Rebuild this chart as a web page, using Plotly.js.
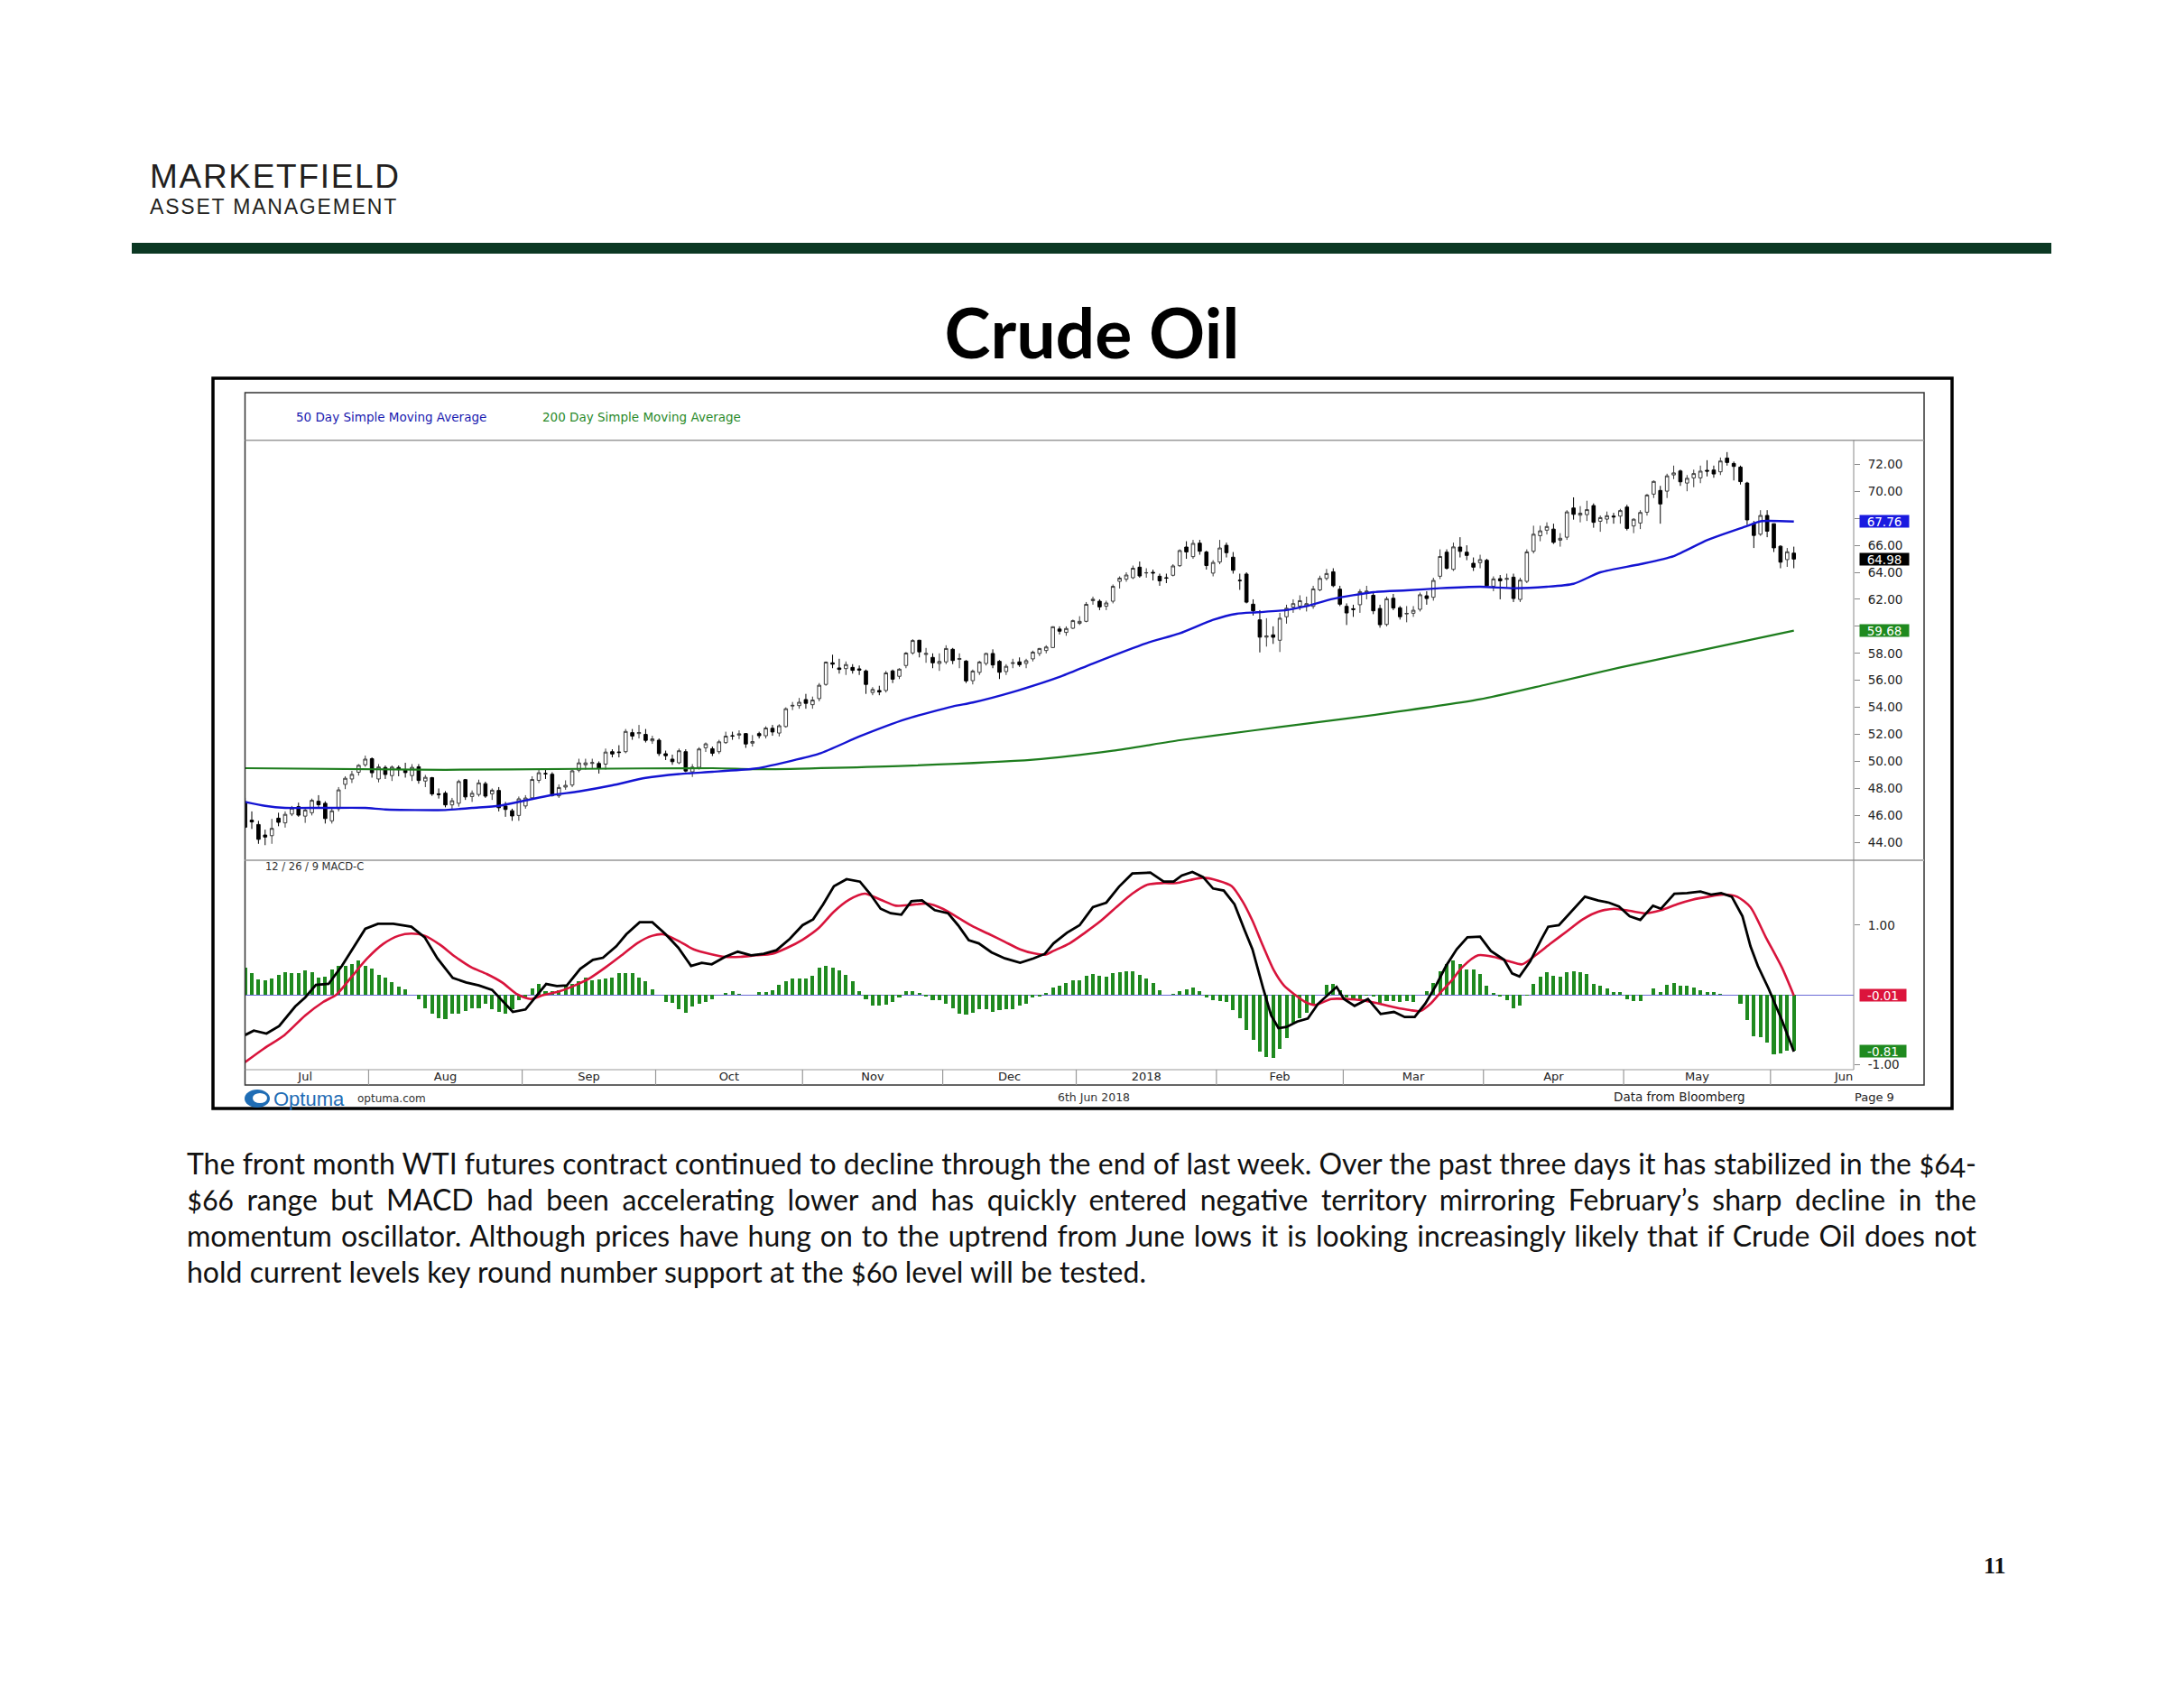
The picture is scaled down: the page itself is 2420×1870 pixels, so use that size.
<!DOCTYPE html>
<html><head><meta charset="utf-8">
<script src="https://cdn.plot.ly/plotly-3.0.1.min.js"></script>
<style>
body{margin:0;background:#fff;width:2420px;height:1870px;overflow:hidden;position:relative;}
#chart{position:absolute;left:0;top:0;width:2420px;height:1870px;}
.ov{position:absolute;white-space:nowrap;color:#231f20;z-index:5;}
.pl{position:absolute;left:207px;width:1983px;height:40px;line-height:40px;white-space:nowrap;
  font-family:Lato,"Open Sans",sans-serif;font-size:32px;color:#111;z-index:5;font-variant-numeric:oldstyle-nums;}
</style></head><body>
<div id="chart"></div>
<div class="ov" style="left:166px;top:177px;font-family:'Liberation Sans',Arial,sans-serif;font-size:37px;line-height:37px;letter-spacing:1.7px;color:#231f20;">MARKETFIELD</div>
<div class="ov" style="left:166px;top:218px;font-family:'Liberation Sans',Arial,sans-serif;font-size:23px;line-height:23px;letter-spacing:1.8px;color:#231f20;">ASSET MANAGEMENT</div>
<div class="ov" style="left:146px;top:269px;width:2127px;height:12px;background:#0b3823;"></div>
<div class="pl" data-j="1" style="top:1269px;"><span>The front month WTI futures contract continued to decline through the end of last week. Over the past three days it has stabilized in the $64-</span></div>
<div class="pl" data-j="1" style="top:1309px;"><span>$66 range but MACD had been accelerating lower and has quickly entered negative territory mirroring February’s sharp decline in the</span></div>
<div class="pl" data-j="1" style="top:1349px;"><span>momentum oscillator. Although prices have hung on to the uptrend from June lows it is looking increasingly likely that if Crude Oil does not</span></div>
<div class="pl" data-j="0" style="top:1389px;"><span>hold current levels key round number support at the $60 level will be tested.</span></div>
<div class="ov" style="left:2198px;top:1722px;font-family:'Liberation Serif',serif;font-weight:bold;font-size:26px;line-height:26px;color:#111;">11</div>
<script>
// ---------------- DATA ----------------
// Daily WTI front-month candles, 5 Jul 2017 .. 6 Jun 2018 (trading-day order)
const open = [47.00,45.65,45.33,44.55,44.50,45.80,45.45,46.10,46.65,45.95,46.20,47.05,46.90,45.60,46.50,48.30,48.70,49.20,49.75,50.20,
48.70,49.55,48.95,49.55,49.35,48.95,49.60,48.55,48.80,47.60,47.65,46.78,46.90,48.65,47.40,47.55,48.35,47.60,47.85,46.70,
46.35,46.00,46.70,47.30,48.60,49.10,49.05,47.45,48.10,48.25,49.35,49.75,49.85,49.85,49.80,50.72,50.70,50.72,52.13,52.06,
52.00,51.52,51.57,50.57,50.17,49.90,50.72,49.23,49.56,51.01,50.94,50.72,51.39,51.90,51.95,52.06,51.35,52.06,51.90,52.45,
52.10,52.58,54.10,54.13,54.58,54.20,54.65,55.70,57.30,56.92,56.87,56.96,56.85,56.70,55.10,55.25,55.25,56.70,56.30,57.10,
58.03,58.97,57.92,57.70,57.25,57.37,58.30,57.55,57.43,55.98,56.59,57.25,57.99,57.41,56.65,57.25,57.37,57.25,57.59,57.99,
58.21,58.43,59.80,59.55,59.86,60.22,60.37,61.90,61.86,61.49,61.86,63.33,63.49,63.60,64.38,63.95,64.00,63.71,63.60,63.78,
64.49,65.87,65.16,66.16,65.50,63.94,64.76,66.00,65.12,63.40,63.87,61.64,60.48,59.20,59.37,58.97,60.71,61.42,61.50,61.48,
61.48,62.70,63.55,64.04,62.75,61.48,61.30,61.60,62.53,62.30,61.32,60.14,62.08,61.37,60.92,60.97,61.26,62.26,62.15,63.71,
65.49,64.22,65.87,65.49,64.67,64.71,64.89,62.97,63.53,63.48,63.64,61.99,63.33,65.56,66.71,67.12,67.20,66.38,66.60,68.76,
68.23,68.27,68.94,67.78,67.94,68.16,68.16,68.83,67.43,67.65,68.45,69.79,70.06,70.01,71.21,71.50,70.61,70.99,70.99,71.55,
71.57,71.44,72.46,72.06,71.79,70.61,67.60,66.82,68.21,67.60,65.93,64.94,65.42];
const high = [47.30,46.30,45.60,44.95,45.75,46.20,46.30,46.70,46.95,46.50,47.25,47.50,47.05,46.60,48.10,48.90,49.30,49.80,50.43,50.30,
49.80,49.70,49.70,49.70,49.90,49.80,49.80,49.00,48.85,48.00,47.80,47.30,48.65,48.70,47.85,48.65,48.50,48.00,48.10,47.00,
46.50,47.40,47.50,48.90,49.40,49.40,49.20,48.30,48.60,49.40,50.20,50.20,50.20,50.00,50.95,50.90,51.20,52.40,52.40,52.70,
52.40,51.90,51.70,50.80,50.50,50.95,50.90,49.80,51.05,51.40,51.10,51.60,52.20,52.20,52.30,52.10,51.95,52.20,52.60,52.70,
52.75,54.00,54.40,54.70,55.00,54.80,55.80,57.40,57.90,57.60,57.40,57.20,57.10,56.80,55.50,55.60,56.70,56.80,56.90,58.10,
59.05,59.00,58.40,58.00,58.00,58.60,58.40,58.00,57.50,56.80,57.45,58.05,58.30,57.50,57.20,57.60,57.70,57.60,58.20,58.40,
58.60,60.00,60.00,60.00,60.50,60.75,61.80,62.20,62.00,61.90,63.10,63.70,64.00,64.50,64.80,64.30,64.20,63.90,63.90,64.60,
65.70,66.30,66.40,66.40,65.60,64.90,66.40,66.20,65.50,63.90,64.00,62.00,61.20,60.60,60.00,61.00,61.60,62.00,62.30,62.20,
63.00,63.75,64.25,64.30,63.00,61.70,61.60,62.75,63.00,62.50,61.60,62.20,62.40,61.50,61.50,61.50,62.50,62.60,63.60,65.70,
65.70,66.20,66.60,66.00,65.10,65.30,65.00,63.70,63.80,63.90,63.90,63.60,65.70,67.45,67.45,67.70,67.60,66.90,68.60,69.55,
68.90,69.30,69.10,68.20,68.50,68.40,68.70,69.00,68.00,68.60,69.80,70.80,70.40,71.30,71.90,71.60,71.20,71.60,71.90,72.30,
71.90,72.50,72.90,72.20,71.90,70.70,67.80,68.60,68.60,67.60,66.00,65.80,65.90];
const low = [45.00,45.00,43.90,43.80,43.90,45.20,45.10,45.95,45.90,45.45,46.00,46.60,45.40,45.40,46.30,47.95,48.40,48.95,49.60,48.80,
48.45,48.70,48.55,48.90,48.80,48.55,48.35,48.10,47.45,47.25,46.60,46.45,46.65,47.15,47.00,47.40,47.30,47.15,46.30,45.90,
45.60,45.60,46.50,47.20,48.40,48.70,47.40,47.30,47.90,48.10,49.20,49.40,49.50,49.10,49.40,50.30,50.30,50.60,51.60,51.70,
51.40,51.30,50.40,50.10,49.75,49.80,49.20,48.85,49.40,50.70,50.40,50.55,51.30,51.60,51.65,51.00,51.10,51.70,51.70,51.90,
51.85,52.50,53.80,53.90,53.90,53.90,54.45,55.60,56.90,56.50,56.40,56.50,56.40,55.00,54.90,54.90,55.10,55.80,56.10,56.90,
57.90,57.70,57.30,56.90,56.70,57.20,57.20,56.90,55.80,55.70,56.40,57.10,56.90,56.10,56.40,56.90,57.00,56.90,57.40,57.80,
58.00,58.40,59.40,59.30,59.80,60.10,60.30,61.60,61.20,61.20,61.70,62.80,63.30,63.50,63.60,63.60,63.40,63.00,63.20,63.70,
64.40,65.00,65.00,65.30,64.20,63.70,64.60,65.10,63.90,62.70,61.70,60.80,58.07,58.50,58.70,58.10,60.20,61.00,61.20,61.10,
61.30,62.60,63.40,62.90,61.50,60.10,60.70,61.00,62.00,60.90,59.90,60.00,61.20,60.50,60.30,60.70,61.10,61.60,61.90,63.50,
64.20,64.10,65.10,64.90,64.10,64.30,62.90,62.60,62.00,62.90,61.80,61.80,63.20,65.40,66.30,66.80,66.10,65.90,66.40,67.90,
67.70,67.80,67.30,67.00,67.60,67.60,67.60,67.10,66.90,67.20,68.20,69.50,67.60,69.50,70.90,70.40,70.00,70.30,70.60,71.10,
71.00,71.20,71.90,70.80,70.50,67.50,65.80,66.70,66.60,65.50,64.30,64.40,64.30];
const close = [45.13,45.52,44.23,44.40,45.04,45.49,46.08,46.54,46.02,46.40,47.12,46.79,45.77,46.34,47.89,48.75,49.04,49.71,50.17,49.16,
49.59,49.03,49.58,49.39,49.17,49.56,48.59,48.82,47.59,47.55,46.78,47.09,48.51,47.37,47.64,48.41,47.43,47.87,46.57,46.44,
45.96,47.23,47.29,48.66,49.16,49.09,47.48,48.07,48.23,49.30,49.89,49.89,49.91,49.48,50.69,50.55,50.66,52.22,51.88,52.14,
51.56,51.67,50.58,50.42,49.98,50.79,49.29,49.58,50.92,51.30,50.60,51.45,51.87,51.88,52.04,51.29,51.47,51.90,52.47,52.18,
52.64,53.90,54.15,54.38,54.30,54.54,55.64,57.35,57.20,56.81,57.17,56.74,56.76,55.70,55.33,55.14,56.55,56.09,56.83,58.02,
58.95,58.11,57.99,57.30,57.40,58.36,57.47,57.62,55.96,56.69,57.36,57.99,57.14,56.60,57.04,57.30,57.16,57.46,58.09,58.36,
58.47,59.97,59.64,59.84,60.42,60.37,61.63,62.01,61.44,61.73,62.96,63.57,63.80,64.30,63.73,63.97,63.95,63.37,63.57,64.47,
65.61,65.51,66.14,65.56,64.50,64.73,65.80,65.45,64.15,63.39,61.79,61.15,59.20,59.29,59.19,60.60,61.34,61.68,61.90,61.68,
62.77,63.55,63.91,63.01,61.64,60.99,61.25,62.57,62.60,61.15,60.12,62.04,61.36,60.71,60.96,61.19,62.34,62.06,63.40,65.17,
64.30,65.88,65.55,65.25,64.38,64.94,63.01,63.51,63.37,63.54,62.06,63.42,65.51,66.82,67.07,67.39,66.22,66.52,68.47,68.29,
68.38,68.64,67.70,68.05,68.19,68.10,68.57,67.25,67.93,68.43,69.72,70.73,69.06,71.14,71.36,70.70,70.96,71.31,71.49,71.49,
71.28,72.24,72.13,71.84,70.71,67.88,66.73,68.21,67.04,65.81,64.75,65.52,64.98];

// 50 / 200 day simple moving averages, read at trading-day positions
const sma50X = [0,3,6,11,18,21,30,34,38,42,46,50,55,60,65,70,76,78,86,92,99,106,109,115,122,127,135,140,145,148.5,151.6,156,159,163,169,174,179,185,190,195,199,203,209,214,219,225,227,232];
const sma50Y = [47.0,46.71,46.56,46.56,46.56,46.44,46.40,46.56,46.71,47.11,47.51,47.78,48.23,48.78,49.07,49.23,49.45,49.61,50.57,51.84,53.13,54.07,54.36,55.14,56.25,57.25,58.75,59.48,60.48,60.93,61.04,61.2,61.5,62.04,62.53,62.66,62.82,62.93,62.82,62.93,63.15,64.0,64.6,65.2,66.38,67.43,67.78,67.76];
const sma200X = [0,30,50,70,78,99,118,130,140,151,159,170,185,195,206,232];
const sma200Y = [49.5,49.38,49.45,49.5,49.42,49.68,50.12,50.79,51.57,52.29,52.8,53.5,54.6,55.7,56.96,59.68];

// MACD (12/26/9) line, signal line, histogram
const macdX = [0,1.3,3.2,5.1,7.5,9,10.6,12.5,14.5,16.4,18,19.9,22.2,24.9,26.9,28.8,31.1,33.1,35,37,38.5,40.1,42,43.6,45.1,46.7,48.2,50.2,52.1,53.6,55.6,57.1,59.1,61,63,64.9,66.8,68.4,69.9,71.9,73.8,75.8,77.7,79.6,81.6,83.5,85.1,86.6,88.2,90.1,92.1,93.6,95.2,96.7,98.3,99.8,101.4,103.3,105.3,106.8,108.4,109.9,111.8,113.8,116.1,118.1,119.8,
121.1,123.1,125,127,129,130.9,132.9,135.6,137.6,139.1,140.3,141.9,143.5,145,146.6,148.2,149.7,150.9,152.5,153.7,154.8,156,157.6,159.2,160.7,162.3,163.5,164.6,166.2,168.2,170.1,172.1,173.7,175.2,176.8,178.4,179.9,181.5,183.1,185,186.6,188.6,189.8,190.9,192.5,194.1,195.2,196.8,198.8,200.7,202.7,204.3,205.8,207.4,209,210.9,212.1,214.1,216,218,219.6,221.1,222.7,224.3,225.5,226.6,228.2,230.2,232];
const macdY = [-0.577,-0.513,-0.556,-0.448,-0.167,-0.037,0.144,0.157,0.416,0.706,0.948,1.021,1.021,0.978,0.827,0.524,0.244,0.179,0.136,0.071,-0.08,-0.245,-0.21,-0.016,0.157,0.127,0.136,0.373,0.503,0.533,0.697,0.87,1.043,1.043,0.87,0.676,0.416,0.46,0.438,0.546,0.62,0.568,0.589,0.641,0.805,1.0,1.086,1.302,1.561,1.661,1.626,1.453,1.237,1.172,1.151,1.345,1.358,1.216,1.172,1.0,0.784,0.74,0.611,0.524,0.46,0.524,0.589,
0.74,0.892,1.0,1.259,1.324,1.553,1.743,1.756,1.626,1.626,1.713,1.764,1.691,1.527,1.497,1.302,0.935,0.655,0.093,-0.296,-0.478,-0.461,-0.383,-0.34,-0.132,0.006,0.114,-0.059,-0.158,-0.059,-0.275,-0.245,-0.318,-0.318,-0.124,0.136,0.416,0.655,0.827,0.835,0.632,0.503,0.308,0.265,0.481,0.784,0.978,1.0,1.216,1.41,1.354,1.324,1.268,1.129,1.077,1.28,1.237,1.453,1.461,1.483,1.44,1.461,1.41,1.129,0.697,0.416,0.093,-0.361,-0.815];
const signalX = [0,2.8,5.9,9,11.7,13.7,16,18.3,20.7,23,24.9,26.9,29.2,31.5,33.9,36.2,38.5,40.8,42.8,44.7,47.05,49.4,51.7,54,56.4,58.7,61,62.6,64.9,67.2,69.6,71.9,74.2,76.5,78.9,81.2,83.5,85.9,88.2,90.5,92.8,95.2,97.5,99.8,102.2,104.5,106.8,109.1,111.5,113.8,116.1,118.1,119.8,
121.1,123.5,125.8,128.2,130.5,132.9,135.2,137.6,139.5,141.5,143.5,145.8,147.8,149.4,150.9,152.5,154.1,155.6,157.2,158.8,160.3,162.7,165,167.4,169.8,172.1,174.5,176,177.6,179.2,180.7,182.3,184.7,187,189.4,191.3,193.3,195.6,198,200.4,202.7,205.1,207.4,209.8,212.1,214.5,216.8,219.2,221.5,223.5,225.5,227.8,230.2,232];
const signalY = [-0.966,-0.772,-0.577,-0.296,-0.102,0.006,0.265,0.524,0.732,0.849,0.879,0.849,0.719,0.546,0.395,0.3,0.179,0.006,-0.059,-0.002,0.049,0.136,0.244,0.395,0.568,0.74,0.849,0.87,0.775,0.654,0.589,0.546,0.546,0.568,0.589,0.676,0.792,0.957,1.194,1.367,1.453,1.367,1.28,1.293,1.311,1.237,1.108,0.978,0.87,0.762,0.654,0.597,0.576,
0.632,0.74,0.892,1.064,1.259,1.453,1.583,1.605,1.605,1.648,1.682,1.639,1.561,1.345,1.064,0.697,0.352,0.136,0.006,-0.102,-0.145,-0.059,-0.059,-0.08,-0.124,-0.176,-0.219,-0.232,-0.124,0.049,0.2,0.395,0.568,0.546,0.481,0.438,0.568,0.74,0.913,1.086,1.194,1.237,1.207,1.172,1.216,1.302,1.367,1.41,1.44,1.41,1.259,0.827,0.395,-0.01];
const histY = [0.386,0.308,0.222,0.213,0.23,0.287,0.33,0.317,0.308,0.351,0.33,0.243,0.265,0.36,0.416,0.416,0.447,0.49,0.416,0.373,
0.287,0.243,0.179,0.114,0.084,0,-0.059,-0.188,-0.274,-0.33,-0.348,-0.274,-0.274,-0.231,-0.188,-0.188,-0.124,-0.21,-0.245,-0.274,
-0.21,-0.08,-0.045,0.093,0.157,0.058,0.049,0.071,0.114,0.157,0.2,0.243,0.213,0.222,0.23,0.243,0.308,0.308,0.308,0.243,
0.2,0.084,0,-0.102,-0.115,-0.2,-0.252,-0.166,-0.124,-0.102,-0.059,0,0.028,0.049,0.013,0,0,0.04,0.04,0.071,
0.144,0.2,0.23,0.23,0.23,0.274,0.386,0.416,0.386,0.351,0.287,0.2,0.058,-0.059,-0.157,-0.157,-0.144,-0.102,-0.037,0.058,
0.058,0.028,-0.03,-0.072,-0.08,-0.124,-0.188,-0.274,-0.287,-0.252,-0.21,-0.21,-0.245,-0.218,-0.21,-0.2,-0.157,-0.124,-0.037,-0.02,
0.03,0.1,0.134,0.17,0.208,0.208,0.274,0.3,0.274,0.256,0.308,0.33,0.343,0.343,0.287,0.23,0.17,0.071,0,0.01,
0.058,0.084,0.1,0.058,-0.04,-0.08,-0.09,-0.102,-0.218,-0.33,-0.504,-0.642,-0.815,-0.893,-0.91,-0.772,-0.62,-0.405,-0.34,-0.253,
-0.124,0.006,0.144,0.157,0.071,-0.04,-0.072,-0.059,-0.016,-0.03,-0.124,-0.09,-0.09,-0.102,-0.09,-0.102,0,0.049,0.17,0.343,
0.438,0.49,0.447,0.36,0.36,0.3,0.134,0.028,-0.03,-0.072,-0.188,-0.158,-0.016,0.157,0.265,0.33,0.274,0.256,0.33,0.343,
0.33,0.3,0.157,0.134,0.091,0.04,0.04,-0.06,-0.09,-0.09,0,0.091,0.04,0.144,0.17,0.126,0.126,0.1,0.071,0.04,
0.04,0.013,0,0,-0.124,-0.36,-0.59,-0.607,-0.685,-0.858,-0.836,-0.806,-0.80];

// Month axis: labels and first trading-day index of each month
const monthLabels = ["Jul","Aug","Sep","Oct","Nov","Dec","2018","Feb","Mar","Apr","May","Jun"];
const monthStart = [0,19,42,62,84,105,125,146,165,186,207,229,251];

// Price axis ticks (68.00 and 60.00 sit under the last-value tags)
const priceTickVals = [44,46,48,50,52,54,56,58,60,62,64,66,68,70,72];
const priceTickText = ["44.00","46.00","48.00","50.00","52.00","54.00","56.00","58.00","","62.00","64.00","66.00","","70.00","72.00"];
const macdTickVals = [-1, 1];
const macdTickText = ["-1.00", "1.00"];

// Last-value tags
const priceTags = [{v:67.76, t:"67.76", c:"#1a1ae0"},{v:64.98, t:"64.98", c:"#000000"},{v:59.68, t:"59.68", c:"#1f8a1f"}];
const macdTags = [{v:-0.01, t:"-0.01", c:"#dc143c"},{v:-0.81, t:"-0.81", c:"#1f8a1f"}];

// ---------------- LAYOUT GEOMETRY ----------------
const W = 2420, H = 1870;
const ML = 272, MR = 366, MT = 488, MB = 668;
const PW = W - ML - MR, PH = H - MT - MB;
const PX = px => (px - ML) / PW;
const PY = py => (H - MB - py) / PH;
const dStrip = [0, PY(1185)], dMacd = [PY(1185), PY(953)], dPrice = [PY(953), 1];
const FONT = "DejaVu Sans, Arial, sans-serif";

const idx = close.map((_, i) => i);

const traces = [
  {type:"candlestick", x: idx, open, high, low, close, xaxis:"x", yaxis:"y",
   increasing:{line:{color:"#3a3a3a", width:1}, fillcolor:"#ffffff"},
   decreasing:{line:{color:"#000000", width:1}, fillcolor:"#000000"},
   whiskerwidth:0, hoverinfo:"skip", showlegend:false},
  {type:"scatter", mode:"lines", x: sma200X, y: sma200Y, xaxis:"x", yaxis:"y",
   line:{color:"#1e7d1e", width:2.2, shape:"spline", smoothing:0.6}, hoverinfo:"skip", showlegend:false},
  {type:"scatter", mode:"lines", x: sma50X, y: sma50Y, xaxis:"x", yaxis:"y",
   line:{color:"#1414d2", width:2.4, shape:"spline", smoothing:0.6}, hoverinfo:"skip", showlegend:false},
  {type:"bar", x: idx, y: histY, xaxis:"x", yaxis:"y2", width:0.55,
   marker:{color:"#1f8a1f", line:{width:0}}, hoverinfo:"skip", showlegend:false},
  {type:"scatter", mode:"lines", x: signalX, y: signalY, xaxis:"x", yaxis:"y2",
   line:{color:"#d8143c", width:2.6, shape:"spline", smoothing:0.7}, hoverinfo:"skip", showlegend:false},
  {type:"scatter", mode:"lines", x: macdX, y: macdY, xaxis:"x", yaxis:"y2",
   line:{color:"#000000", width:2.8}, hoverinfo:"skip", showlegend:false},
  {type:"scatter", mode:"text", xaxis:"x", yaxis:"y3", cliponaxis:true,
   x: monthLabels.map((_, k) => (monthStart[k] + monthStart[k+1]) / 2 - 0.5),
   y: monthLabels.map(() => 0.5), text: monthLabels,
   textfont:{family:FONT, size:13, color:"#222"}, textposition:"middle center",
   hoverinfo:"skip", showlegend:false}
];

const shapes = [];
const line = (x0,y0,x1,y1,color,width) => shapes.push({type:"line", xref:"paper", yref:"paper",
  x0:PX(x0), y0:PY(y0), x1:PX(x1), y1:PY(y1), line:{color, width}});
// outer frame and inner frame
shapes.push({type:"rect", xref:"paper", yref:"paper", x0:PX(236), x1:PX(2163), y0:PY(1228), y1:PY(419), line:{color:"#000", width:3.5}});
shapes.push({type:"rect", xref:"paper", yref:"paper", x0:PX(271.5), x1:PX(2132), y0:PY(1202), y1:PY(435), line:{color:"#333", width:1.5}});
line(271.5, 487.7, 2132, 487.7, "#9a9a9a", 1.5);
line(271.5, 953, 2132, 953, "#b0b0b0", 2);
line(2054, 487.7, 2054, 1185, "#888", 1);
line(271.5, 1185, 2054, 1185, "#999", 1.2);
// month dividers in date strip
monthStart.slice(1, 12).forEach(s => shapes.push({type:"line", xref:"x", yref:"paper",
  x0:s - 0.5, x1:s - 0.5, y0:0, y1:dStrip[1], line:{color:"#999", width:1.2}}));
// Optuma logo mark
shapes.push({type:"circle", xref:"paper", yref:"paper", x0:PX(271), x1:PX(299), y0:PY(1227), y1:PY(1207), fillcolor:"#1f6db5", line:{width:0}});
shapes.push({type:"circle", xref:"paper", yref:"paper", x0:PX(280), x1:PX(296), y0:PY(1222), y1:PY(1211), fillcolor:"#ffffff", line:{width:0}});

const annotations = [
  {text:"50 Day Simple Moving Average", x:PX(326), y:PY(462), xanchor:"left", yanchor:"middle", font:{family:FONT, size:13.5, color:"#1a1ab0"}},
  {text:"200 Day Simple Moving Average", x:PX(599), y:PY(462), xanchor:"left", yanchor:"middle", font:{family:FONT, size:13.5, color:"#2a8a2a"}},
  {text:"12 / 26 / 9 MACD-C", x:PX(292), y:PY(960), xanchor:"left", yanchor:"middle", font:{family:FONT, size:11.5, color:"#333"}},
  {text:"Optuma", x:PX(301), y:PY(1217), xanchor:"left", yanchor:"middle", font:{family:"Liberation Sans, Arial", size:22, color:"#1f6db5"}},
  {text:"optuma.com", x:PX(394), y:PY(1217), xanchor:"left", yanchor:"middle", font:{family:FONT, size:12, color:"#333"}},
  {text:"6th Jun 2018", x:PX(1212), y:PY(1215), xanchor:"center", yanchor:"middle", font:{family:FONT, size:12.5, color:"#333"}},
  {text:"Data from Bloomberg", x:PX(1861), y:PY(1215), xanchor:"center", yanchor:"middle", font:{family:FONT, size:13.5, color:"#222"}},
  {text:"Page 9", x:PX(2077), y:PY(1215), xanchor:"center", yanchor:"middle", font:{family:FONT, size:13, color:"#222"}}
].map(a => Object.assign({xref:"paper", yref:"paper", showarrow:false}, a));
priceTags.forEach(t => annotations.push({text:t.t, xref:"paper", x:PX(2088), yref:"y", y:t.v, xanchor:"center", yanchor:"middle",
  showarrow:false, bgcolor:t.c, width:54, height:13, borderpad:0, font:{family:FONT, size:13.5, color:"#fff"}}));
macdTags.forEach(t => annotations.push({text:t.t, xref:"paper", x:PX(2086), yref:"y2", y:t.v, xanchor:"center", yanchor:"middle",
  showarrow:false, bgcolor:t.c, width:51, height:13, borderpad:0, font:{family:FONT, size:13.5, color:"#fff"}}));

const yCommon = {side:"right", showgrid:false, zeroline:false, showline:false, ticks:"outside", ticklen:6,
  tickcolor:"#888", tickwidth:1, ticklabelstandoff:6, tickfont:{family:FONT, size:13.5, color:"#222"}, fixedrange:true};

const layout = {
  width:W, height:H, margin:{l:ML, r:MR, t:MT, b:MB, pad:0},
  paper_bgcolor:"rgba(0,0,0,0)", plot_bgcolor:"rgba(0,0,0,0)", showlegend:false, bargap:0,
  title:{text:"Crude Oil", x:0.5, xref:"container", xanchor:"center", y:1 - 370/H, yref:"container", yanchor:"middle",
    font:{family:"Lato, Open Sans, sans-serif", size:77, weight:700, color:"#000"}},
  xaxis:{range:[(272 - 271.6) / 7.397, (2054 - 271.6) / 7.397], showgrid:false, zeroline:false, showline:false,
    showticklabels:false, ticks:"", anchor:"y3", rangeslider:{visible:false}, fixedrange:true},
  yaxis:Object.assign({}, yCommon, {domain:dPrice, range:[42.683, 73.758], tickmode:"array", tickvals:priceTickVals, ticktext:priceTickText}),
  yaxis2:Object.assign({}, yCommon, {domain:dMacd, range:[-1.074, 1.933], tickmode:"array", tickvals:macdTickVals, ticktext:macdTickText,
    zeroline:true, zerolinecolor:"#6b6bd6", zerolinewidth:1.2}),
  yaxis3:{domain:dStrip, range:[0, 1], visible:false, fixedrange:true},
  shapes, annotations
};

Plotly.newPlot("chart", traces, layout, {staticPlot:true, displayModeBar:false});

// justify paragraph lines
function justify(){
  document.querySelectorAll(".pl").forEach(el => {
    const span = el.firstElementChild;
    span.style.wordSpacing = "0px";
    if (el.dataset.j !== "1") return;
    const natural = span.getBoundingClientRect().width;
    const n = (span.textContent.match(/ /g) || []).length;
    if (n > 0) span.style.wordSpacing = ((1983 - natural) / n) + "px";
  });
}
if (document.fonts && document.fonts.ready) document.fonts.ready.then(justify);
justify();
</script>
</body></html>
